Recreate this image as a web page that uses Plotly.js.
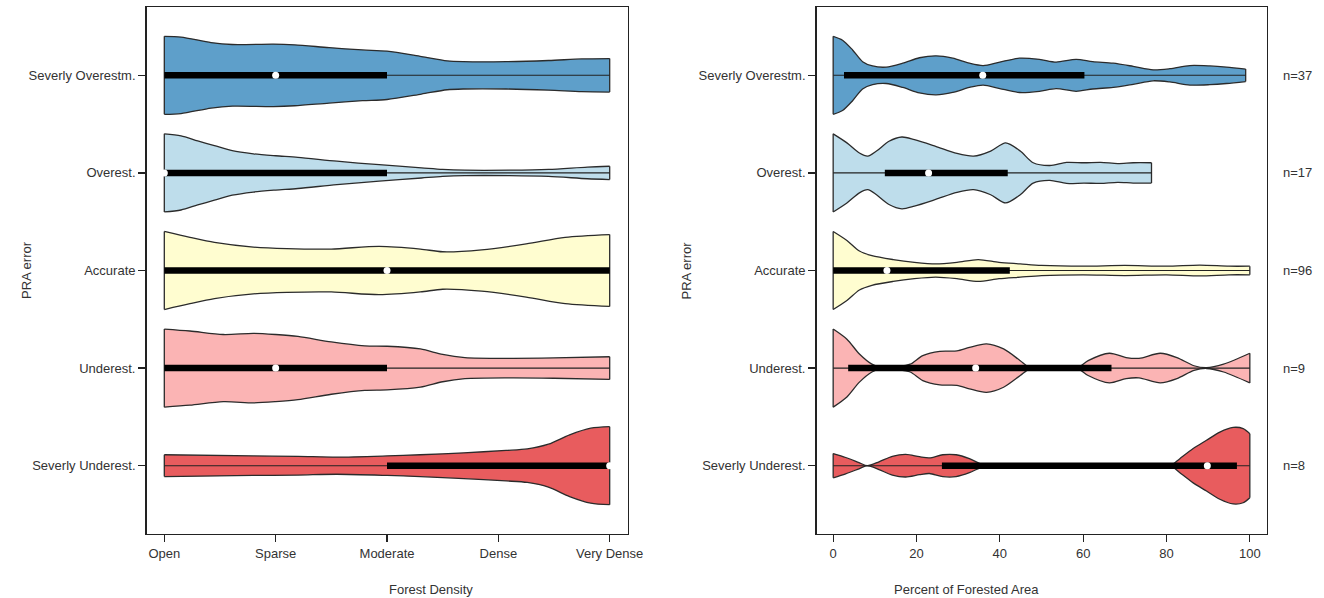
<!DOCTYPE html>
<html>
<head>
<meta charset="utf-8">
<script src="https://cdn.plot.ly/plotly-3.0.1.min.js"></script>
<style>html,body{margin:0;padding:0;background:#fff;}#chart{width:1324px;height:598px;}</style>
</head>
<body>
<div id="chart"></div>
<script>
// ---------- DATA ----------
const categories = ["Severly Overestm.", "Overest.", "Accurate", "Underest.", "Severly Underest."];
const catPos = [5, 4, 3, 2, 1];
const densityTickVals = [0, 1, 2, 3, 4];
const densityTickText = ["Open", "Sparse", "Moderate", "Dense", "Very Dense"];
const nLabels = ["n=37", "n=17", "n=96", "n=9", "n=8"];
const fillColors = ["#5E9FCA", "#BEDDEB", "#FFFDD0", "#FBB4B4", "#E85C5E"];

// Left panel: Forest Density (0=Open .. 4=Very Dense), relative density profiles
const lx_so = [0, 0.15, 0.42, 0.61, 0.98, 1.17, 1.48, 1.78, 2.0, 2.31, 2.54, 2.69, 3.07, 3.45, 3.75, 4.0];
const lw_so = [1.0, 0.98, 0.84, 0.79, 0.80, 0.78, 0.71, 0.65, 0.62, 0.48, 0.37, 0.35, 0.35, 0.38, 0.42, 0.43];
const lx_ov = [0, 0.15, 0.3, 0.45, 0.61, 0.8, 1.0, 1.2, 1.55, 1.93, 2.31, 2.5, 2.7, 3.1, 3.45, 3.8, 4.0];
const lw_ov = [1.0, 0.95, 0.82, 0.70, 0.57, 0.49, 0.44, 0.40, 0.30, 0.21, 0.13, 0.09, 0.07, 0.07, 0.09, 0.15, 0.17];
const lx_ac = [0, 0.23, 0.45, 0.8, 1.1, 1.5, 1.93, 2.3, 2.5, 2.85, 3.25, 3.6, 4.0];
const lw_ac = [1.0, 0.85, 0.72, 0.60, 0.56, 0.55, 0.62, 0.55, 0.48, 0.53, 0.68, 0.85, 0.92];
const lx_un = [0, 0.23, 0.53, 0.8, 1.0, 1.2, 1.5, 1.8, 2.0, 2.3, 2.5, 2.7, 3.1, 3.5, 4.0];
const lw_un = [1.0, 0.95, 0.86, 0.89, 0.86, 0.81, 0.67, 0.57, 0.56, 0.49, 0.35, 0.27, 0.25, 0.26, 0.29];
const lx_su = [0, 0.8, 1.2, 1.55, 2.0, 2.3, 2.69, 3.07, 3.26, 3.45, 3.64, 3.83, 4.0];
const lw_su = [0.28, 0.25, 0.24, 0.22, 0.25, 0.28, 0.33, 0.39, 0.43, 0.55, 0.79, 0.96, 1.0];
const leftMin = [0, 0, 0, 0, 0];
const leftQ1  = [0, 0, 0, 0, 2];
const leftMed = [1, 0, 2, 1, 4];
const leftQ3  = [2, 2, 4, 2, 4];
const leftMax = [4, 4, 4, 4, 4];

// Right panel: Percent of Forested Area
const rx_so = [0, 2.25, 4.66, 7.06, 9.46, 12.7, 16.7, 20.7, 24.7, 28.7, 32.7, 36.0, 40.0, 44.7, 49.5, 53.5, 58.3, 62.3, 67.2, 72.0, 76.8, 80.8, 85.6, 90.4, 94.4, 99.0];
const rw_so = [1.0, 0.90, 0.65, 0.35, 0.24, 0.21, 0.31, 0.45, 0.50, 0.44, 0.31, 0.25, 0.34, 0.44, 0.41, 0.34, 0.41, 0.35, 0.31, 0.23, 0.14, 0.17, 0.25, 0.24, 0.21, 0.16];
const rx_ov = [0, 3.3, 6.3, 8.3, 10.4, 13.4, 16.5, 19.5, 24.6, 29.7, 33.7, 37.8, 41.4, 44.9, 48, 52, 56, 60.2, 64.2, 68.3, 72, 76.4];
const rw_ov = [1.0, 0.77, 0.51, 0.43, 0.56, 0.81, 0.92, 0.85, 0.68, 0.50, 0.43, 0.56, 0.77, 0.56, 0.26, 0.19, 0.27, 0.26, 0.27, 0.24, 0.26, 0.26];
const rx_ac = [0, 3.3, 6.3, 9.3, 14.4, 19.5, 24.6, 29.7, 34.8, 39.8, 44.9, 50, 60, 70, 80, 88, 95, 100];
const rw_ac = [1.0, 0.77, 0.5, 0.38, 0.28, 0.21, 0.17, 0.21, 0.28, 0.21, 0.17, 0.13, 0.11, 0.13, 0.11, 0.14, 0.11, 0.11];
const rx_un = [0, 3.3, 6.3, 9.3, 11.4, 15.4, 18.5, 21.5, 25.6, 29.7, 32.7, 36.8, 40.9, 44.9, 47, 50, 54, 57, 59, 61.2, 66.3, 70.3, 73.4, 78.5, 82.5, 86.6, 89.6, 93.7, 100];
const rw_un = [1.0, 0.74, 0.36, 0.10, 0.02, 0.04, 0.10, 0.32, 0.43, 0.44, 0.53, 0.62, 0.49, 0.19, 0.03, 0.03, 0.03, 0.03, 0.03, 0.19, 0.38, 0.27, 0.25, 0.38, 0.27, 0.06, 0.01, 0.10, 0.38];
const rx_su = [0, 3.0, 6.2, 8.2, 11.0, 14.2, 17.4, 20.7, 23.1, 26.3, 29.5, 32.7, 35.1, 36.7, 39, 45, 50, 55, 60, 65, 70, 75, 79, 81.0, 83.2, 86.4, 89.6, 92.8, 96.0, 98.4, 100];
const rw_su = [0.31, 0.21, 0.08, 0.0, 0.10, 0.24, 0.29, 0.23, 0.20, 0.28, 0.28, 0.18, 0.06, 0.0, 0.0, 0.0, 0.0, 0.0, 0.0, 0.0, 0.0, 0.0, 0.0, 0.0, 0.18, 0.44, 0.65, 0.86, 0.98, 0.95, 0.82];
const rightMin = [0, 0, 0, 0, 0];
const rightQ1  = [2.6, 12.4, 0, 3.6, 26.1];
const rightMed = [35.9, 22.9, 12.9, 34.2, 89.8];
const rightQ3  = [60.3, 41.9, 42.4, 66.8, 96.9];
const rightMax = [99.0, 76.4, 100, 100, 100];

// ---------- DRAWING ----------
const HALF = 0.4;
const OUTLINE = '#2b2b2b';
const leftProfiles = [[lx_so, lw_so], [lx_ov, lw_ov], [lx_ac, lw_ac], [lx_un, lw_un], [lx_su, lw_su]];
const rightProfiles = [[rx_so, rw_so], [rx_ov, rw_ov], [rx_ac, rw_ac], [rx_un, rw_un], [rx_su, rw_su]];
const traces = [];

function addPanel(profiles, mins, q1, med, q3, maxs, xa, ya) {
  profiles.forEach((p, i) => {
    const xs = p[0], ws = p[1], c = catPos[i];
    const top = ws.map(w => c + HALF * w);
    const bot = ws.map(w => c - HALF * w);
    const last = xs.length - 1;
    traces.push({
      type: 'scatter', mode: 'lines', xaxis: xa, yaxis: ya, x: xs, y: bot,
      line: {color: OUTLINE, width: 1.3, shape: 'spline', smoothing: 0.8}, hoverinfo: 'skip'
    });
    traces.push({
      type: 'scatter', mode: 'lines', xaxis: xa, yaxis: ya, x: xs, y: top,
      fill: 'tonexty', fillcolor: fillColors[i],
      line: {color: OUTLINE, width: 1.3, shape: 'spline', smoothing: 0.8}, hoverinfo: 'skip'
    });
    traces.push({
      type: 'scatter', mode: 'lines', xaxis: xa, yaxis: ya,
      x: [xs[0], xs[0], null, xs[last], xs[last]],
      y: [bot[0], top[0], null, bot[last], top[last]],
      line: {color: OUTLINE, width: 1.3}, hoverinfo: 'skip'
    });
    traces.push({
      type: 'scatter', mode: 'lines', xaxis: xa, yaxis: ya,
      x: [mins[i], maxs[i]], y: [c, c],
      line: {color: '#222', width: 1.1}, hoverinfo: 'skip'
    });
    traces.push({
      type: 'scatter', mode: 'lines', xaxis: xa, yaxis: ya,
      x: [q1[i], q3[i]], y: [c, c],
      line: {color: '#000', width: 6.5}, hoverinfo: 'skip'
    });
    traces.push({
      type: 'scatter', mode: 'markers', xaxis: xa, yaxis: ya,
      x: [med[i]], y: [c],
      marker: {color: '#fff', size: 7, line: {width: 0}}, hoverinfo: 'skip'
    });
  });
}
addPanel(leftProfiles, leftMin, leftQ1, leftMed, leftQ3, leftMax, 'x', 'y');
addPanel(rightProfiles, rightMin, rightQ1, rightMed, rightQ3, rightMax, 'x2', 'y2');

const FONT = {family: '"Liberation Sans", Arial, Helvetica, sans-serif', size: 13, color: '#333'};
const axBase = {
  showgrid: false, zeroline: false, showline: true, mirror: true,
  linecolor: '#222', linewidth: 1.4,
  ticks: 'outside', ticklen: 7, tickwidth: 1.3, tickcolor: '#222',
  tickfont: FONT, fixedrange: true
};
const yBase = Object.assign({}, axBase, {
  range: [0.3, 5.7], tickmode: 'array', tickvals: catPos, ticktext: categories, domain: [0, 1]
});

const layout = {
  width: 1324, height: 598,
  margin: {l: 0, r: 0, t: 7, b: 64},
  paper_bgcolor: '#fff', plot_bgcolor: '#fff',
  showlegend: false, font: FONT,
  xaxis: Object.assign({}, axBase, {domain: [146.5/1324, 627.5/1324], range: [-0.16, 4.16],
    tickmode: 'array', tickvals: densityTickVals, ticktext: densityTickText, anchor: 'y'}),
  yaxis: Object.assign({}, yBase, {anchor: 'x'}),
  xaxis2: Object.assign({}, axBase, {domain: [816.5/1324, 1266.5/1324], range: [-4, 104],
    tickmode: 'array', tickvals: [0, 20, 40, 60, 80, 100], anchor: 'y2'}),
  yaxis2: Object.assign({}, yBase, {anchor: 'x2'}),
  annotations: [
    {text: 'Forest Density', xref: 'paper', yref: 'paper', x: 0.2923, y: 0, yanchor: 'middle', yshift: -55, showarrow: false, font: FONT},
    {text: 'Percent of Forested Area', xref: 'paper', yref: 'paper', x: 0.7866, y: 0, yanchor: 'middle', yshift: -55, showarrow: false, font: FONT},
    {text: 'PRA error', xref: 'paper', yref: 'y', x: 17/1324, y: 3, textangle: -90, showarrow: false, font: FONT},
    {text: 'PRA error', xref: 'paper', yref: 'y2', x: 686/1324, y: 3, textangle: -90, showarrow: false, font: FONT}
  ].concat(nLabels.map((t, i) => ({
    text: t, xref: 'paper', yref: 'y2', x: 1281/1324, y: catPos[i], xanchor: 'left', showarrow: false, font: FONT
  })))
};

Plotly.newPlot('chart', traces, layout, {displayModeBar: false, staticPlot: true});
</script>
</body>
</html>
